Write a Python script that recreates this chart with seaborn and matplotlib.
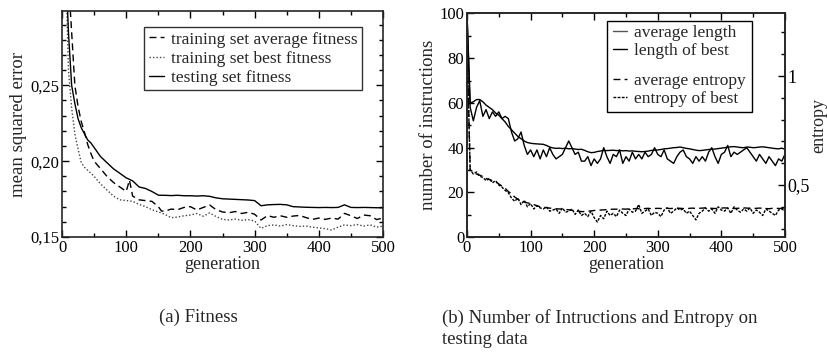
import numpy as np
import pandas as pd
import matplotlib
matplotlib.use("Agg")
import matplotlib.pyplot as plt
from matplotlib.ticker import MultipleLocator, FuncFormatter
from matplotlib.patches import Rectangle
from matplotlib.lines import Line2D
import seaborn as sns

# ---- (a) fitness ----
gen_a = [0, 5, 10, 15, 20, 25, 30, 35, 40, 45, 50, 60, 70, 80, 90, 100, 105, 110, 120, 130,
         140, 150, 155, 160, 170, 180, 190, 200, 210, 220, 230, 240, 250, 260, 270, 280,
         290, 300, 310, 320, 330, 340, 350, 360, 370, 380, 390, 400, 410, 420, 430, 440,
         450, 460, 470, 480, 490, 500]
testing_fit = [0.42, 0.34, 0.285, 0.25, 0.238, 0.228, 0.222, 0.218, 0.214, 0.212, 0.209, 0.203,
               0.199, 0.195, 0.192, 0.189, 0.188, 0.187, 0.183, 0.182, 0.180, 0.1776, 0.1775,
               0.1775, 0.1773, 0.1775, 0.1772, 0.1772, 0.1770, 0.1772, 0.1768, 0.1758, 0.1752,
               0.1750, 0.1748, 0.1746, 0.1744, 0.1740, 0.1706, 0.1712, 0.1714, 0.1715, 0.1712,
               0.1700, 0.1698, 0.1696, 0.1695, 0.1694, 0.1695, 0.1694, 0.1695, 0.1712, 0.1695,
               0.1694, 0.1695, 0.1694, 0.1693, 0.1692]
train_avg = [0.45, 0.38, 0.32, 0.285, 0.25, 0.236, 0.226, 0.219, 0.211, 0.205, 0.200, 0.195,
             0.190, 0.186, 0.183, 0.180, 0.1875, 0.177, 0.1745, 0.174, 0.1735, 0.170, 0.1671,
             0.167, 0.1684, 0.168, 0.1695, 0.170, 0.1678, 0.1695, 0.1711, 0.168, 0.1665,
             0.1660, 0.1668, 0.1655, 0.1663, 0.1650, 0.1612, 0.1641, 0.1630, 0.1640, 0.1630,
             0.1638, 0.1642, 0.1628, 0.1616, 0.1625, 0.1616, 0.1625, 0.1618, 0.1656, 0.1640,
             0.1622, 0.1645, 0.1640, 0.1615, 0.1625]
train_best = [0.40, 0.34, 0.26, 0.235, 0.218, 0.208, 0.199, 0.196, 0.194, 0.192, 0.190, 0.185,
              0.181, 0.177, 0.1745, 0.1740, 0.1738, 0.1735, 0.1715, 0.170, 0.168, 0.1665, 0.1658,
              0.165, 0.1627, 0.1632, 0.1640, 0.1645, 0.1655, 0.1637, 0.1659, 0.1635, 0.1616,
              0.1612, 0.1618, 0.1610, 0.1615, 0.1605, 0.1557, 0.1575, 0.1580, 0.1572, 0.1582,
              0.1575, 0.1570, 0.1572, 0.1565, 0.1560, 0.1555, 0.1546, 0.1565, 0.1580, 0.1575,
              0.1582, 0.1572, 0.1580, 0.1565, 0.1572]

# ---- (b) length and entropy ----
gen_b = list(range(0, 501, 5))
avg_length = [100, 60, 60.5, 61.5, 61.5, 60.5, 59, 58, 57, 55.5, 54.5, 53, 51.5, 49.5, 48, 46.5,
              45, 44, 43, 42.3, 42, 41.8, 41.7, 41.6, 41.5, 41, 40.3, 39.9, 39.7, 39.8, 39.6,
              39.8, 39.5, 39.6, 39.4, 39.2, 39.3, 38.8, 38.2, 37.8, 37.9, 38.3, 38.5, 38.8, 38.7,
              38.8, 38.9, 38.7, 38.8, 38.6, 38.7, 38.5, 38.6, 38.4, 38.3, 38.2, 38.3, 38.5, 38.8,
              38.9, 39.0, 39.2, 39.5, 39.6, 39.8, 40.0, 40.1, 40.3, 40.0, 39.7, 39.5, 39.2, 38.9,
              38.7, 38.8, 39.0, 39.2, 39.3, 39.4, 39.6, 39.8, 40.0, 40.2, 40.4, 40.5, 40.3, 40.1,
              40.0, 40.3, 40.2, 40.0, 40.1, 40.3, 40.4, 40.2, 40.0, 39.8, 39.6, 39.5, 39.8, 39.3]
best_length = [100, 58, 52, 58, 61, 54, 57, 53, 56, 54, 56, 53, 54, 53, 47, 43, 44, 47, 41, 37,
               39, 36, 39, 35, 39, 36, 40, 37, 35, 36, 37, 40, 43, 40, 37, 38, 34, 34, 36, 32,
               35, 33, 35, 40, 36, 33, 37, 36, 39, 33, 36, 34, 38, 35, 37, 35, 38, 36, 37, 40,
               37, 36, 39, 35, 34, 33, 36, 38, 39, 36, 35, 33, 36, 34, 36, 34, 38, 40, 36, 33,
               37, 38, 41, 36, 38, 37, 38, 39, 40, 38, 36, 34, 37, 35, 33, 36, 34, 32, 35, 34, 37]
avg_entropy = [1.15, 0.569, 0.56, 0.55, 0.545, 0.54, 0.53, 0.525, 0.52, 0.515, 0.505, 0.495,
               0.485, 0.47, 0.46, 0.445, 0.435, 0.428, 0.422, 0.418, 0.415, 0.41, 0.405, 0.40,
               0.398, 0.396, 0.394, 0.392, 0.391, 0.39, 0.389, 0.388, 0.386, 0.384, 0.382, 0.38,
               0.378, 0.378, 0.38, 0.381, 0.383, 0.384, 0.385, 0.386, 0.387, 0.388, 0.389, 0.389,
               0.389, 0.390, 0.389, 0.391, 0.390, 0.392, 0.391, 0.390, 0.392, 0.393, 0.391, 0.392,
               0.393, 0.392, 0.394, 0.393, 0.392, 0.393, 0.394, 0.393, 0.392, 0.391, 0.393, 0.394,
               0.392, 0.393, 0.394, 0.395, 0.394, 0.393, 0.392, 0.393, 0.394, 0.395, 0.394, 0.393,
               0.392, 0.393, 0.394, 0.395, 0.394, 0.393, 0.392, 0.393, 0.394, 0.393, 0.392, 0.391,
               0.393, 0.394, 0.392, 0.393, 0.394]
best_entropy = [1.15, 0.57, 0.55, 0.56, 0.54, 0.535, 0.52, 0.53, 0.51, 0.52, 0.50, 0.49, 0.475,
                0.465, 0.44, 0.425, 0.44, 0.41, 0.43, 0.40, 0.415, 0.39, 0.405, 0.395, 0.39,
                0.40, 0.38, 0.385, 0.39, 0.37, 0.395, 0.375, 0.38, 0.39, 0.365, 0.385, 0.36,
                0.37, 0.355, 0.38, 0.35, 0.33, 0.36, 0.345, 0.38, 0.36, 0.37, 0.355, 0.385, 0.37,
                0.36, 0.39, 0.375, 0.38, 0.41, 0.37, 0.38, 0.39, 0.36, 0.375, 0.37, 0.355, 0.385,
                0.395, 0.37, 0.38, 0.395, 0.385, 0.39, 0.37, 0.38, 0.36, 0.34, 0.37, 0.38, 0.395,
                0.38, 0.39, 0.37, 0.4, 0.385, 0.38, 0.395, 0.37, 0.4, 0.385, 0.375, 0.39, 0.38,
                0.395, 0.37, 0.385, 0.375, 0.36, 0.39, 0.38, 0.37, 0.36, 0.385, 0.39, 0.38]

sns.set_style("ticks")
plt.rcParams["font.family"] = ["Liberation Serif", "DejaVu Serif"]
plt.rcParams["axes.linewidth"] = 1.2

comma2 = FuncFormatter(lambda v, p: ("%.2f" % v).replace(".", ","))
comma_g = FuncFormatter(lambda v, p: ("%g" % v).replace(".", ","))


def style_ticks(ax, right=True):
    ax.tick_params(which="both", direction="in", top=True, right=right,
                   colors="black", labelsize=12, pad=2)
    ax.tick_params(which="major", length=5, width=1)
    ax.tick_params(which="minor", length=3, width=1)


fig = plt.figure(figsize=(8.28, 3.62), dpi=100)

# ---- panel a ----
ax1 = fig.add_axes([0.0749, 0.3453, 0.3877, 0.6243])
df_a = pd.DataFrame({"gen": gen_a, "testing": testing_fit,
                     "avg": train_avg, "best": train_best})
sns.lineplot(data=df_a, x="gen", y="avg", ax=ax1, color="black", lw=1,
             linestyle=(0, (5, 3)), label="training set average fitness")
sns.lineplot(data=df_a, x="gen", y="best", ax=ax1, color="#444444", lw=1,
             linestyle=(0, (1, 1.5)), label="training set best fitness")
sns.lineplot(data=df_a, x="gen", y="testing", ax=ax1, color="black", lw=1,
             label="testing set fitness")
ax1.set_xlim(0, 500)
ax1.set_ylim(0.15, 0.299)
ax1.set_yticks([0.15, 0.20, 0.25])
ax1.yaxis.set_major_formatter(comma2)
ax1.xaxis.set_minor_locator(MultipleLocator(50))
ax1.yaxis.set_minor_locator(MultipleLocator(0.01))
ax1.set_xlabel("generation", fontsize=13, labelpad=0)
ax1.set_ylabel("mean squared error", fontsize=13.5, labelpad=2)
style_ticks(ax1)
leg1 = ax1.legend(loc="upper right", bbox_to_anchor=(0.935, 0.929), fontsize=12.5,
                  frameon=True, fancybox=False, edgecolor="black",
                  handlelength=0.9, handletextpad=0.4, borderpad=0.25,
                  labelspacing=0.18, borderaxespad=0)
leg1.get_frame().set_linewidth(1)

# ---- panel b ----
ax2 = fig.add_axes([0.564, 0.3445, 0.384, 0.6187])
ax3 = ax2.twinx()
df_b = pd.DataFrame({"gen": gen_b, "avg_len": avg_length, "best_len": best_length,
                     "avg_ent": avg_entropy, "best_ent": best_entropy})
sns.lineplot(data=df_b, x="gen", y="avg_len", ax=ax2, color="black", lw=1, legend=False)
sns.lineplot(data=df_b, x="gen", y="best_len", ax=ax2, color="black", lw=1, legend=False)
sns.lineplot(data=df_b, x="gen", y="avg_ent", ax=ax3, color="black", lw=1,
             linestyle=(0, (5, 3)), legend=False)
sns.lineplot(data=df_b, x="gen", y="best_ent", ax=ax3, color="black", lw=1,
             linestyle=(0, (2, 1)), legend=False)
ax2.set_xlim(0, 500)
ax2.set_ylim(0, 100)
ax2.set_yticks([0, 20, 40, 60, 80, 100])
ax2.xaxis.set_minor_locator(MultipleLocator(50))
ax2.yaxis.set_minor_locator(MultipleLocator(10))
ax2.set_xlabel("generation", fontsize=13, labelpad=0)
ax2.set_ylabel("number of instructions", fontsize=13.5, labelpad=2)
style_ticks(ax2, right=False)
ax3.set_ylim(0.26, 1.288)
ax3.set_yticks([0.5, 1.0])
ax3.yaxis.set_major_formatter(comma_g)
ax3.yaxis.set_minor_locator(MultipleLocator(0.1))
ax3.tick_params(which="both", direction="in", right=True, colors="black",
                labelsize=13, pad=2)
ax3.tick_params(which="major", length=5, width=1)
ax3.tick_params(which="minor", length=3, width=1)
ax3.set_ylabel("entropy", fontsize=13, labelpad=0)

h_len = [Line2D([], [], color="#555555", lw=1), Line2D([], [], color="black", lw=1)]
h_ent = [Line2D([], [], color="black", lw=1, linestyle=(0, (5, 3))),
         Line2D([], [], color="black", lw=1, linestyle=(0, (2, 1)))]
leg_kw = dict(fontsize=12.5, frameon=False, handlelength=0.8, handletextpad=0.4,
              borderpad=0.1, labelspacing=0.1, borderaxespad=0, loc="upper left")
legA = ax3.legend(h_len, ["average length", "length of best"],
                  bbox_to_anchor=(0.455, 0.955), **leg_kw)
ax3.add_artist(legA)
legB = ax3.legend(h_ent, ["average entropy", "entropy of best"],
                  bbox_to_anchor=(0.455, 0.74), **leg_kw)
ax3.add_patch(Rectangle((0.44, 0.559), 0.456, 0.407, transform=ax3.transAxes,
                        fill=False, edgecolor="black", lw=1, clip_on=False))

fig.text(0.24, 0.122, "(a) Fitness", fontsize=13.5, ha="center", va="center")
fig.text(0.534, 0.122, "(b) Number of Intructions and Entropy on", fontsize=13.5,
         ha="left", va="center")
fig.text(0.534, 0.061, "testing data", fontsize=13.5, ha="left", va="center")

fig.savefig("out.png", dpi=100)
